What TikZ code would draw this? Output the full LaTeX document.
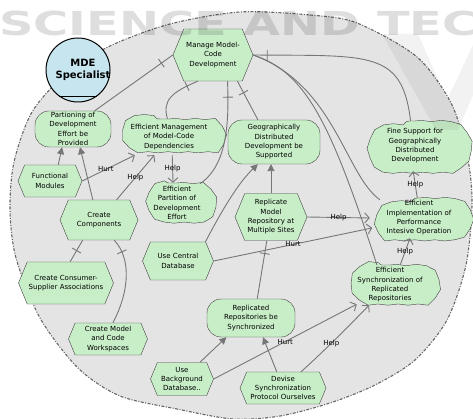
\documentclass[tikz,border=0pt]{standalone}
\usepackage{fontspec}
\setmainfont{DejaVu Sans}
\usetikzlibrary{positioning,arrows.meta,shapes.symbols,shapes.misc,decorations.pathmorphing,decorations.markings}
\definecolor{istargreen}{RGB}{200,238,200}
\definecolor{actorblue}{RGB}{198,229,239}
\definecolor{boundgray}{RGB}{228,228,228}
\definecolor{linkgray}{RGB}{118,118,118}

\begin{document}
\begin{tikzpicture}[
x=1pt,
y=-1pt,
sz/.style 2 args={
  minimum width=#1pt,
  minimum height=#2pt
  },
elem/.style={
  draw=black!75,
  fill=istargreen,
  align=center,
  inner sep=0pt,
  font=\fontsize{7}{9.3}\selectfont
  },
task/.style={
  elem,
  shape=signal,
  signal to=east and west,
  signal from=nowhere,
  signal pointer angle=135
  },
goal/.style={
  elem,
  rectangle,
  rounded corners=14pt
  },
softgoal/.style={
  elem,
  shape=rounded rectangle,
  rounded rectangle arc length=140,
  decorate,
  decoration={snake, amplitude=0.6pt, segment length=20pt}
  },
link/.style={
  draw=linkgray,
  line width=0.9pt
  },
meansend/.style={
  link,
  -{Triangle[length=7pt,width=7pt]}
  },
contrib/.style={
  link,
  -{Straight Barb[length=4.5pt,width=10pt]}
  },
decomp/.style={
  link,
  postaction={decorate, decoration={markings,
    mark=at position #1 with {\draw[linkgray, line width=0.9pt] (0pt,-5pt) -- (0pt,5pt);}}}
  },
lbl/.style={
  font=\fontsize{7}{8}\selectfont,
  inner sep=1pt
  }
]
\useasboundingbox (0,0) rectangle (473,419);

% actor boundary
\draw[draw=black!60, fill=boundgray, line width=1.1pt,
  dash pattern=on 3pt off 1.5pt on 1pt off 1.5pt]
  plot[smooth cycle] coordinates {
  (240,12) (310,15) (357,23) (417,57) (452,105) (468,160) (472,205)
  (466,265) (447,320) (415,360) (375,385) (330,403) (280,416) (233,419)
  (177,409) (120,396) (78,368) (40,318) (16,258) (10,210) (14,162)
  (32,112) (66,74) (110,46) (170,24)};

% actor
\node[circle, draw=black, line width=1pt, fill=actorblue, minimum size=64pt] (mde) at (78,70) {};
\draw[line width=1pt] (mde.-125) -- (mde.-55);
\node[font=\bfseries\fontsize{10}{12}\selectfont, align=center] (mdelbl) at (83,70) {MDE\\Specialist};

% elements
\node[task, sz={80}{52}] (manage) at (213,55) {Manage Model-\\Code\\Development};
\node[goal, sz={76}{36}] (partg) at (73,129) {Partioning of\\Development\\Effort be\\Provided};
\node[softgoal, sz={104}{36}] (effmgmt) at (169,137) {Efficient Management\\of Model-Code\\Dependencies};
\node[goal, sz={92}{44}] (geog) at (274,142) {Geographically\\Distributed\\Development be\\Supported};
\node[softgoal, sz={104}{50}] (finesup) at (415,146) {Fine Support for\\Geographically\\Distributed\\Development};
\node[softgoal, sz={98}{40}] (effimpl) at (419,218) {Efficient\\Implementation of\\Performance\\Intesive Operation};
\node[softgoal, sz={90}{40}] (effsync) at (390,285) {Efficient\\Synchronization of\\Replicated\\Repositories};
\node[softgoal, sz={70}{40}] (effpart) at (177,203) {Efficient\\Partition of\\Development\\Effort};
\node[goal, sz={88}{38}] (replg) at (251,318) {Replicated\\Repositories be\\Synchronized};
\node[task, sz={64}{32}] (funcmod) at (50,181) {Functional\\Modules};
\node[task, sz={78}{40}] (createcomp) at (99,220) {Create\\Components};
\node[task, sz={71}{38}] (usecentral) at (178,261) {Use Central\\Database};
\node[task, sz={72}{47}] (replicate) at (271,217) {Replicate\\Model\\Repository at\\Multiple Sites};
\node[task, sz={95}{42}] (consumer) at (66,283) {Create Consumer-\\Supplier Associations};
\node[task, sz={79}{32}] (workspaces) at (108,339) {Create Model\\and Code\\Workspaces};
\node[task, sz={63}{33}] (usebg) at (182,379) {Use\\Background\\Database..};
\node[task, sz={86}{32}] (devise) at (283,388) {Devise\\Synchronization\\Protocol Ourselves};

% decompositions
\draw[decomp=-14pt] (partg.40) -- (manage.west);
\draw[decomp=-12pt] (effmgmt.95) .. controls (162,100) and (172,92) .. (manage.240);
\draw[decomp=-16pt] (effpart.40) .. controls (228,165) and (229,120) .. (manage.299);
\draw[decomp=-13pt] (geog.126) -- (manage.-47);
\draw[decomp=14pt] (manage.east) .. controls (370,56) and (402,50) .. (finesup.100);
\draw[link] (manage.east) .. controls (335,85) and (345,175) .. (effimpl.155);
\draw[link] (manage.east) .. controls (305,72) and (330,120) .. (effsync.123);
\draw[decomp=-12pt] (consumer.79) -- (createcomp.231);
\draw[decomp=-14pt] (workspaces.73) .. controls (130,290) and (131,258) .. (createcomp.-53);
\draw[decomp=-13pt] (replg.72) -- (replicate.260);

% means-end links
\draw[meansend] (funcmod.63) -- (partg.239);
\draw[meansend] (createcomp.107) -- (partg.-69);
\draw[meansend] (usecentral.35) .. controls (218,218) and (236,185) .. (geog.234);
\draw[meansend] (replicate.north) -- (replicate.north |- geog.south);
\draw[meansend] (usebg.43) -- (replg.218);
\draw[meansend] (devise.111) -- (replg.-58);

% contributions
\draw[contrib] (funcmod.east) -- node[lbl, pos=.45] {Hurt} (effmgmt.208);
\draw[contrib] (createcomp.49) -- node[lbl, pos=.5] {Help} (effmgmt.231);
\draw[contrib] (effmgmt.-80) -- node[lbl, pos=.5] {Help} (effpart.101);
\draw[contrib] (usecentral.east) -- node[lbl, pos=.5] {Hurt} (effimpl.192);
\draw[contrib] (replicate.east) -- node[lbl, pos=.5] {Help} (effimpl.west);
\draw[contrib] (effimpl.95) -- node[lbl, pos=.5] {Help} (finesup.-94);
\draw[contrib] (effsync.63) -- node[lbl, pos=.5] {Help} (effimpl.246);
\draw[contrib] (usebg.east) -- node[lbl, pos=.5] {Hurt} (effsync.210);
\draw[contrib] (devise.42) .. controls (320,355) and (350,325) .. node[lbl, pos=.45] {Help} (effsync.224);

% watermark
\node[anchor=west, text=black, text opacity=.13, xscale=1.45,
  font=\bfseries\fontsize{33}{33}\selectfont] (wm) at (-6,23) {SCIENCE AND TEC};
\fill[black, opacity=.05] (382,34) -- (418,34) -- (447,100) -- (473,45) -- (473,95)
  -- (458,130) -- (436,130) -- cycle;
\end{tikzpicture}
\end{document}
